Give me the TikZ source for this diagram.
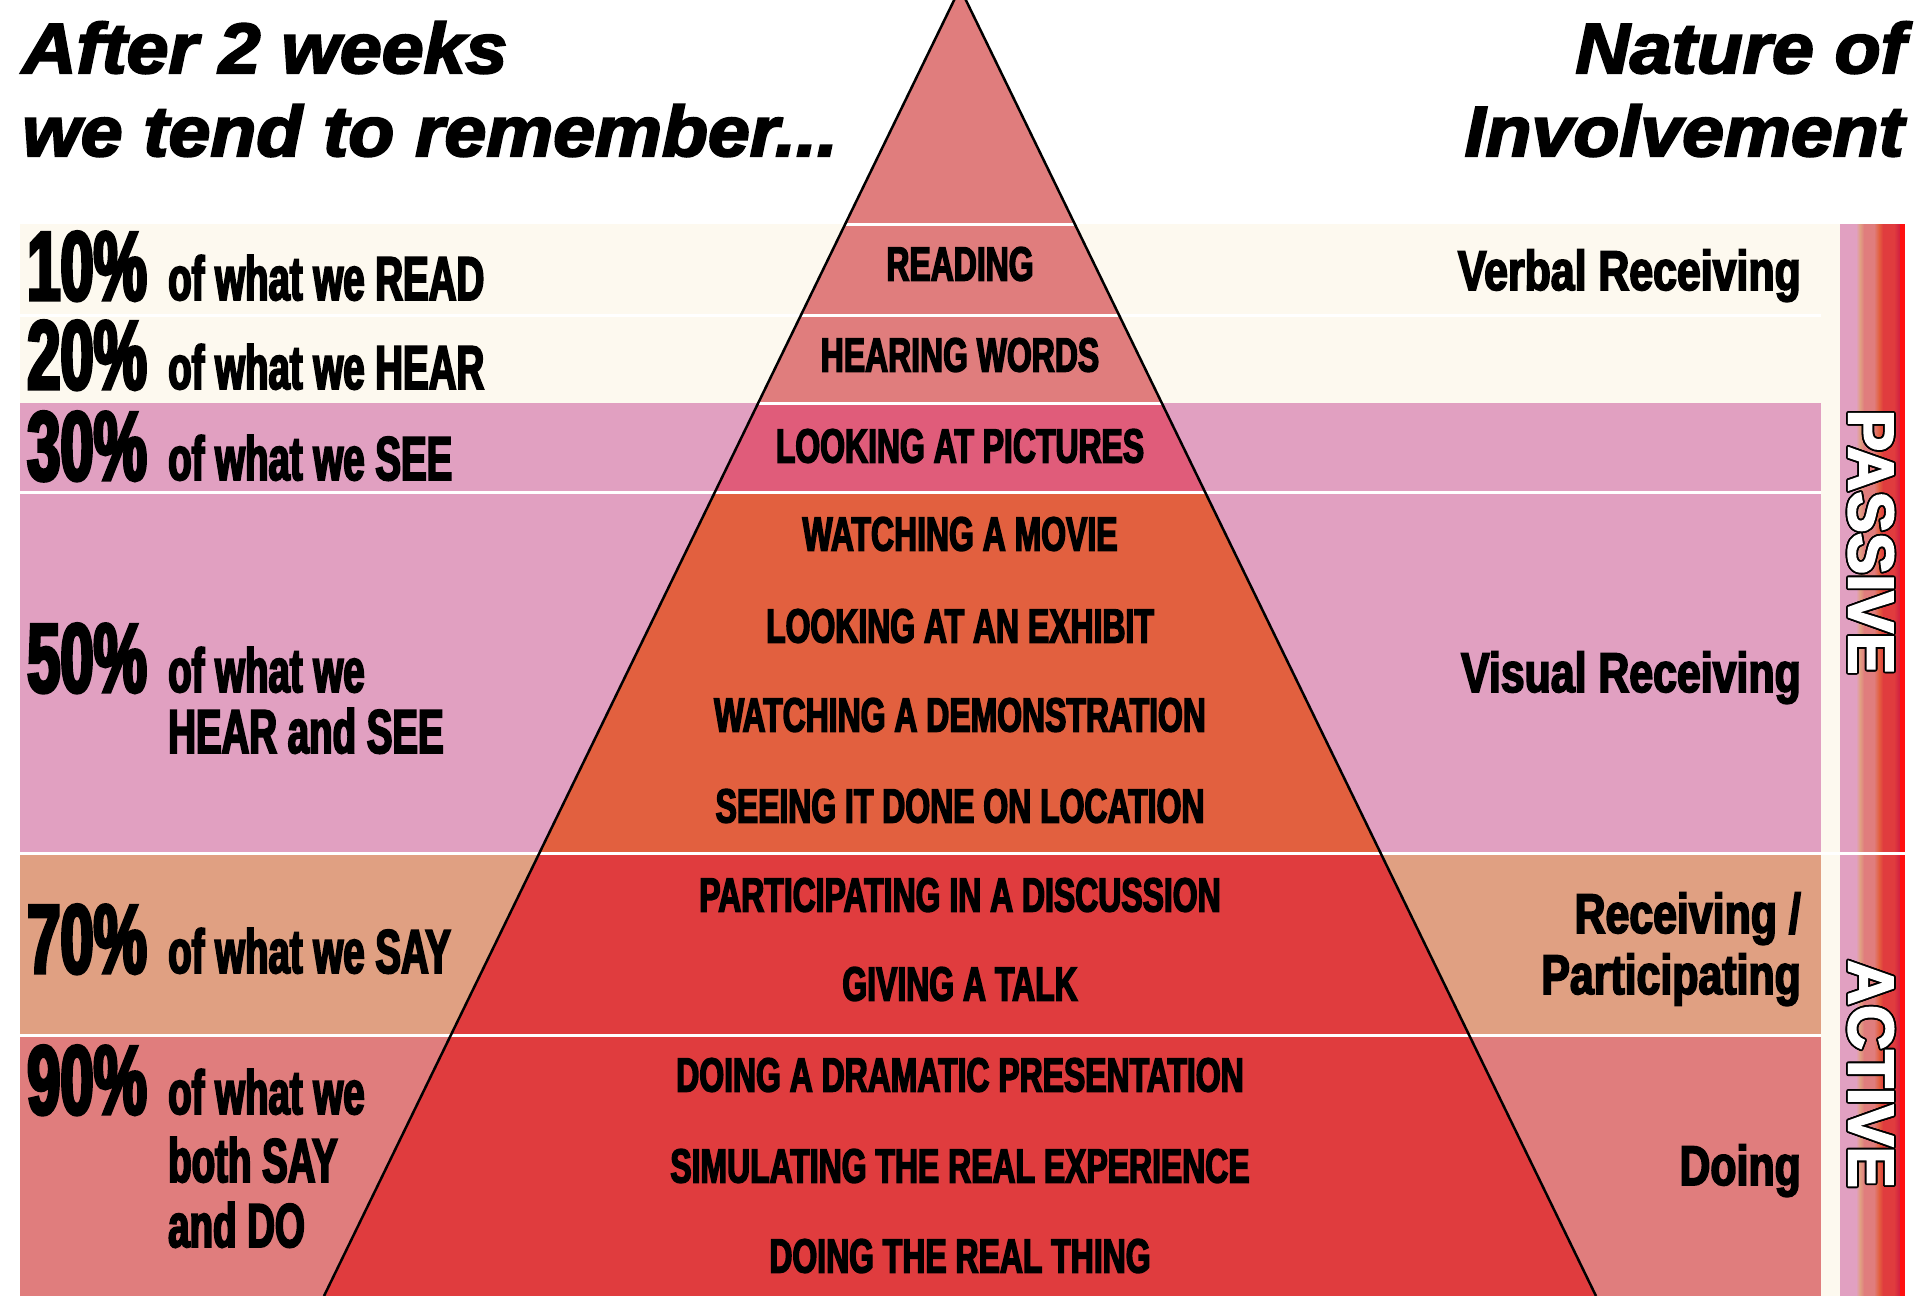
\documentclass[tikz,border=0pt]{standalone}
\usepackage{fontspec}
\usepackage[copies]{contour}
\newfontfamily\condA[FakeStretch=0.62,FakeBold=3]{Liberation Sans}
\newfontfamily\condN[FakeStretch=0.61,FakeBold=3.5]{Liberation Sans}
\newfontfamily\condP[FakeStretch=0.665,FakeBold=3]{Liberation Sans}
\newfontfamily\condB[FakeStretch=0.765,FakeBold=3]{Liberation Sans}
\newfontfamily\titlefont[FakeStretch=1.06,FakeBold=3]{Liberation Sans}
\newfontfamily\sidefont[FakeStretch=0.97,FakeBold=3]{Liberation Sans}
\definecolor{cream}{HTML}{FDF9EF}
\definecolor{pinkB}{HTML}{E1A0C1}
\definecolor{peach}{HTML}{E0A082}
\definecolor{salmon}{HTML}{E07D7D}
\definecolor{picrow}{HTML}{E05C7A}
\definecolor{orangeP}{HTML}{E2603F}
\definecolor{redP}{HTML}{E03C3E}
\definecolor{crimson}{HTML}{D01E40}
\definecolor{brightR}{HTML}{FF1010}
\contourlength{1.8pt}
\tikzset{
  lnum/.style={anchor=base west, inner sep=0pt, font=\condN\bfseries\fontsize{98}{98}\selectfont},
  ltext/.style={anchor=base west, inner sep=0pt, font=\condA\bfseries\fontsize{62}{62}\selectfont},
  ptext/.style={anchor=center, inner sep=0pt, font=\condP\bfseries\fontsize{48}{48}\selectfont},
  rtext/.style={anchor=base east, inner sep=0pt, font=\condB\bfseries\fontsize{56}{56}\selectfont},
  ttext/.style={inner sep=0pt, font=\titlefont\bfseries\itshape\fontsize{71}{71}\selectfont},
  sidetext/.style={inner sep=0pt, rotate=-90, font=\sidefont\bfseries\fontsize{64}{64}\selectfont},
  sepline/.style={white, line width=3pt},
  pyrline/.style={black, line width=2.5pt}
}
\begin{document}
\begin{tikzpicture}[x=1pt,y=-1pt]
\useasboundingbox (0,0) rectangle (1920,1296);
\fill[white] (0,0) rectangle (1920,1296);
% bands
\fill[cream] (20,224) rectangle (1821,403);
\fill[pinkB] (20,403) rectangle (1821,853);
\fill[peach] (20,853) rectangle (1821,1035);
\fill[salmon] (20,1035) rectangle (1821,1296);
% cream strip and bar
\fill[cream] (1821,224) rectangle (1840,1296);
\fill[pinkB] (1840,224) rectangle (1856,1296);
\shade[left color=pinkB, right color=peach] (1856,224) rectangle (1860,1296);
\shade[left color=peach, right color=salmon] (1860,224) rectangle (1864,1296);
\fill[salmon] (1864,224) rectangle (1874,1296);
\shade[left color=salmon, right color=orangeP] (1874,224) rectangle (1879,1296);
\shade[left color=orangeP, right color=redP] (1879,224) rectangle (1883,1296);
\fill[redP] (1883,224) rectangle (1894,1296);
\shade[left color=redP, right color=crimson] (1894,224) rectangle (1900,1296);
\fill[brightR] (1900,224) rectangle (1905,1296);
% pyramid
\coordinate (apex) at (960,-12);
\coordinate (bl) at (324,1296);
\coordinate (br) at (1596,1296);
\begin{scope}
  \clip (apex) -- (bl) -- (br) -- cycle;
  \fill[salmon] (300,-20) rectangle (1620,403);
  \fill[picrow] (300,403) rectangle (1620,492);
  \fill[orangeP] (300,492) rectangle (1620,853);
  \fill[redP] (300,853) rectangle (1620,1296);
  \draw[sepline] (300,224) -- (1620,224);
  \draw[sepline] (300,403) -- (1620,403);
\end{scope}
% separators
\draw[sepline] (20,315) -- (1821,315);
\draw[sepline] (20,492) -- (1821,492);
\draw[sepline] (20,853) -- (1905,853);
\draw[sepline] (20,1035) -- (1821,1035);
% pyramid outline
\draw[pyrline] (apex) -- (bl);
\draw[pyrline] (apex) -- (br);
% titles
\node[ttext, anchor=base west] (tl1) at (22,73) {After 2 weeks};
\node[ttext, anchor=base west] (tl2) at (22,156) {we tend to remember...};
\node[ttext, anchor=base east] (tr1) at (1906,73) {Nature of};
\node[ttext, anchor=base east] (tr2) at (1904,156) {Involvement};
% left labels
\node[lnum] (n10) at (27,300) {10\%};
\node[ltext] (s10) at (168,300) {of what we READ};
\node[lnum] (n20) at (27,389) {20\%};
\node[ltext] (s20) at (168,389) {of what we HEAR};
\node[lnum] (n30) at (27,480) {30\%};
\node[ltext] (s30) at (168,480) {of what we SEE};
\node[lnum] (n50) at (27,692) {50\%};
\node[ltext] (s50a) at (168,692) {of what we};
\node[ltext] (s50b) at (168,753) {HEAR and SEE};
\node[lnum] (n70) at (27,973) {70\%};
\node[ltext] (s70) at (168,973) {of what we SAY};
\node[lnum] (n90) at (27,1114) {90\%};
\node[ltext] (s90a) at (168,1114) {of what we};
\node[ltext] (s90b) at (168,1182) {both SAY};
\node[ltext] (s90c) at (168,1247) {and DO};
% pyramid labels
\node[ptext] (p1) at (960,264) {READING};
\node[ptext] (p2) at (960,355) {HEARING WORDS};
\node[ptext] (p3) at (960,446) {LOOKING AT PICTURES};
\node[ptext] (p4) at (960,534) {WATCHING A MOVIE};
\node[ptext] (p5) at (960,626) {LOOKING AT AN EXHIBIT};
\node[ptext] (p6) at (960,715) {WATCHING A DEMONSTRATION};
\node[ptext] (p7) at (960,806) {SEEING IT DONE ON LOCATION};
\node[ptext] (p8) at (960,895) {PARTICIPATING IN A DISCUSSION};
\node[ptext] (p9) at (960,984) {GIVING A TALK};
\node[ptext] (p10) at (960,1075) {DOING A DRAMATIC PRESENTATION};
\node[ptext] (p11) at (960,1166) {SIMULATING THE REAL EXPERIENCE};
\node[ptext] (p12) at (960,1256) {DOING THE REAL THING};
% right labels
\node[rtext] (r1) at (1801,290) {Verbal Receiving};
\node[rtext] (r2) at (1801,692) {Visual Receiving};
\node[rtext] (r3a) at (1801,933) {Receiving /};
\node[rtext] (r3b) at (1801,994) {Participating};
\node[rtext] (r4) at (1801,1185) {Doing};
% side labels
\node[sidetext] (passive) at (1870,542) {\color{white}\contour{black}{PASSIVE}};
\node[sidetext] (active) at (1870,1074) {\color{white}\contour{black}{ACTIVE}};
\end{tikzpicture}
\end{document}
